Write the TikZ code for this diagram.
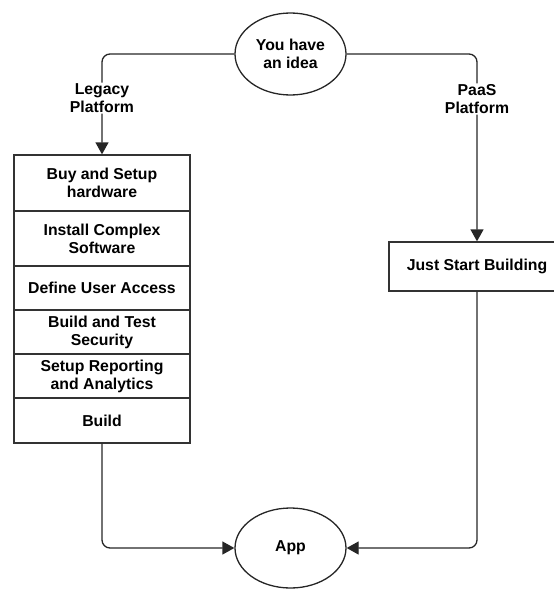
\documentclass[tikz,border=0pt]{standalone}
\usepackage{fontspec}
\setmainfont{Liberation Sans}
\usetikzlibrary{arrows.meta, shapes.geometric}

\begin{document}
\begin{tikzpicture}[
  x = 1pt, y = -1pt,
  every node/.style = {
    font = \bfseries\fontsize{15.8}{18}\selectfont,
    align = center,
  },
  oval/.style = {
    shape = ellipse,
    draw = black!85,
    line width = 1.3pt,
    minimum width = 111pt,
    inner sep = 0pt,
  },
  stepbox/.style = {
    shape = rectangle,
    draw = black!80,
    line width = 1.3pt,
    minimum width = 176pt,
    inner sep = 0pt,
  },
  lbl/.style = {
    fill = white,
    inner sep = 1pt,
  }
]
  \clip (0, 0) rectangle (554, 589);

  \node[oval, minimum height = 82pt] (idea) at (290.5, 54) {You have\\an idea};
  \node[oval, minimum height = 80pt] (app) at (290.5, 548) {App};

  \node[stepbox, minimum height = 56pt] (buy) at (102, 183) {Buy and Setup\\hardware};
  \node[stepbox, minimum height = 55pt] (install) at (102, 238.5) {Install Complex\\Software};
  \node[stepbox, minimum height = 44pt] (access) at (102, 288) {Define User Access};
  \node[stepbox, minimum height = 44pt] (security) at (102, 332) {Build and Test\\Security};
  \node[stepbox, minimum height = 44pt] (report) at (102, 376) {Setup Reporting\\and Analytics};
  \node[stepbox, minimum height = 45pt] (build) at (102, 420.5) {Build};

  \node[stepbox, minimum height = 49pt] (start) at (477, 266.5) {Just Start Building};

  \begin{scope}[
    every path/.style = {
      line width = 1.3pt,
      draw = black!85,
      rounded corners = 8pt,
      -{Triangle[width = 13pt, length = 12pt]},
    }
  ]
    \draw (idea.west) -| node[lbl, pos = 0.72] {Legacy\\Platform} (buy.north);
    \draw (idea.east) -| node[lbl, pos = 0.62] {PaaS\\Platform} (start.north);

    \draw (build.south) |- (app.west);
    \draw (start.south) |- (app.east);
  \end{scope}
\end{tikzpicture}
\end{document}
